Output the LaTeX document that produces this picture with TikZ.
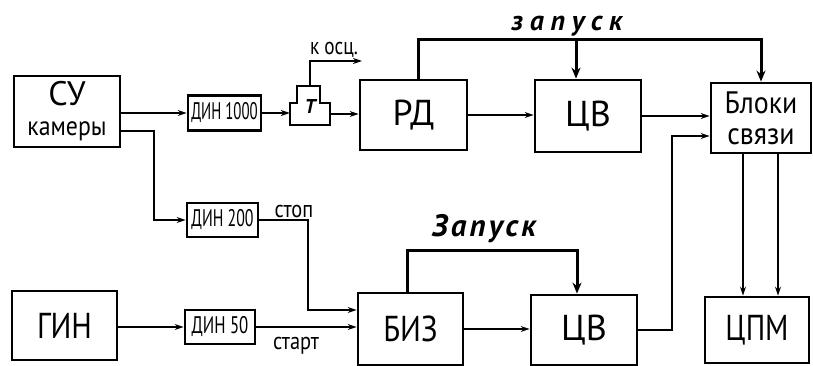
\documentclass[tikz,border=0pt]{standalone}
\usepackage{fontspec}
\setmainfont{PT Sans}
\usetikzlibrary{arrows.meta,calc}
\newcommand{\narrowtxt}[2][0.72]{\scalebox{#1}[1]{#2}}
\begin{document}
\begin{tikzpicture}[x=1pt,y=-1pt,
 box/.style={draw, line width=2.8pt, inner sep=0pt, align=center},
 conn/.style={line width=2pt},
 arr/.style={conn,-{Stealth[length=9pt,width=6pt]}},
 bigarr/.style={line width=3pt,-{Stealth[length=11pt,width=9pt]}},
 big/.style={font=\fontsize{36}{36}\selectfont},
 din/.style={box, font=\fontsize{24}{24}\selectfont},
 lbl/.style={inner sep=0pt, font=\fontsize{24}{24}\selectfont},
 zap/.style={inner sep=0pt}
]
\useasboundingbox (0,0) rectangle (813,366);

% blocks
\node[box, minimum width=106pt, minimum height=71pt, font=\fontsize{27}{30}\selectfont] (su) at (67,111.5)
  {{\fontsize{34}{34}\selectfont СУ}\\{\narrowtxt[0.88]{камеры}}};
\node[din, minimum width=73pt, minimum height=35pt] (din1000) at (224.5,113) {\narrowtxt[0.62]{ДИН 1000}};
\node[din, minimum width=71pt, minimum height=34pt] (din200) at (222.5,220) {\narrowtxt[0.66]{ДИН 200}};
\node[box, big, minimum width=105pt, minimum height=69pt] (gin) at (64.5,325.5) {\narrowtxt[0.85]{ГИН}};
\node[din, minimum width=70pt, minimum height=34pt] (din50) at (220,327) {\narrowtxt[0.7]{ДИН 50}};
\node[box, big, minimum width=107pt, minimum height=70pt] (rd) at (413.5,115) {РД};
\node[box, big, minimum width=106pt, minimum height=72pt] (cv1) at (588,116) {ЦВ};
\node[box, minimum width=100pt, minimum height=70pt, font=\fontsize{31}{31}\selectfont] (bloki) at (761,118)
  {\narrowtxt[0.9]{Блоки}\\\narrowtxt[0.9]{связи}};
\node[box, big, minimum width=105pt, minimum height=72pt] (biz) at (410.5,329) {\narrowtxt[0.85]{БИЗ}};
\node[box, big, minimum width=106pt, minimum height=70pt] (cv2) at (584,330) {ЦВ};
\node[box, big, minimum width=104pt, minimum height=66pt] (cpm) at (757,330) {\narrowtxt[0.82]{ЦПМ}};

% T element
\node[minimum width=40pt, minimum height=22pt, inner sep=0pt] (tee) at (310,114) {};
\draw[line width=2.4pt] (tee.south west) -- (tee.north west) -- ++(7,0) -- ++(0,-17)
  -- ++(23,0) -- ++(0,17) -- (tee.north east) -- (tee.south east) -- cycle;
\coordinate (teetop) at (310,86);
\node[inner sep=0pt, font=\fontsize{20}{20}\selectfont\bfseries\itshape] (tlet) at (310,107) {T};

% helper coordinates
\coordinate (osc) at (362,61);
\coordinate (ztop) at (0,40);
\coordinate (zb) at (0,250);
\coordinate (j1) at (154,131);
\coordinate (j2) at (672,0);
\coordinate (j3) at (308,0);
\coordinate (bizin) at ([yshift=19pt]biz.west);
\coordinate (blin) at ([yshift=-18pt]bloki.west);

% connectors
\draw[arr] (su.east |- din1000.west) -- (din1000.west);
\draw[arr] ([yshift=-19.5pt]su.east) -- (j1) |- (din200.west);
\draw[arr] (din1000.east) -- (din1000.east -| tee.west);
\draw[arr] (tee.east) -- (tee.east -| rd.west);
\draw[arr] (teetop) |- (osc);
\draw[arr] (rd.east) -- (rd.east -| cv1.west);
\draw[arr] (cv1.east) -- (cv1.east -| bloki.west);
\draw[bigarr] ([xshift=4.5pt]rd.north) |- (ztop -| bloki.north) -- (bloki.north);
\draw[bigarr] ([xshift=-12pt]cv1.north |- ztop) -- ([xshift=-12pt]cv1.north);
\draw[arr] (cv2.east) -| (j2 |- blin) -- (blin);
\draw[arr] ([xshift=-18pt]bloki.south) -- ([xshift=-18pt]bloki.south |- cpm.north);
\draw[arr] ([xshift=17pt]bloki.south) -- ([xshift=17pt]bloki.south |- cpm.north);
\draw[arr] (gin.east |- din50.west) -- (din50.west);
\draw[arr] (din50.east) -- (din50.east -| biz.west);
\draw[arr] (din200.east) -| (j3 |- bizin) -- (bizin);
\draw[bigarr] ([xshift=-3.5pt]biz.north) -- ([xshift=-3.5pt]biz.north |- zb) -| ([xshift=-7pt]cv2.north);
\draw[arr] (biz.east) -- (biz.east -| cv2.west);

% labels
\node[lbl] (losc) at (334,50) {\narrowtxt[0.8]{к осц.}};
\node[lbl] (lstop) at (294,211) {\narrowtxt[0.85]{стоп}};
\node[lbl] (lstart) at (296,346) {\narrowtxt[0.85]{старт}};
\node[zap, font=\fontsize{28}{28}\selectfont\bfseries\itshape\addfontfeature{LetterSpace=24}] (zap1) at (567,26) {запуск};
\node[zap, font=\fontsize{31}{31}\selectfont\bfseries\itshape\addfontfeature{LetterSpace=10}] (zap2) at (484,229) {Запуск};
\end{tikzpicture}
\end{document}
